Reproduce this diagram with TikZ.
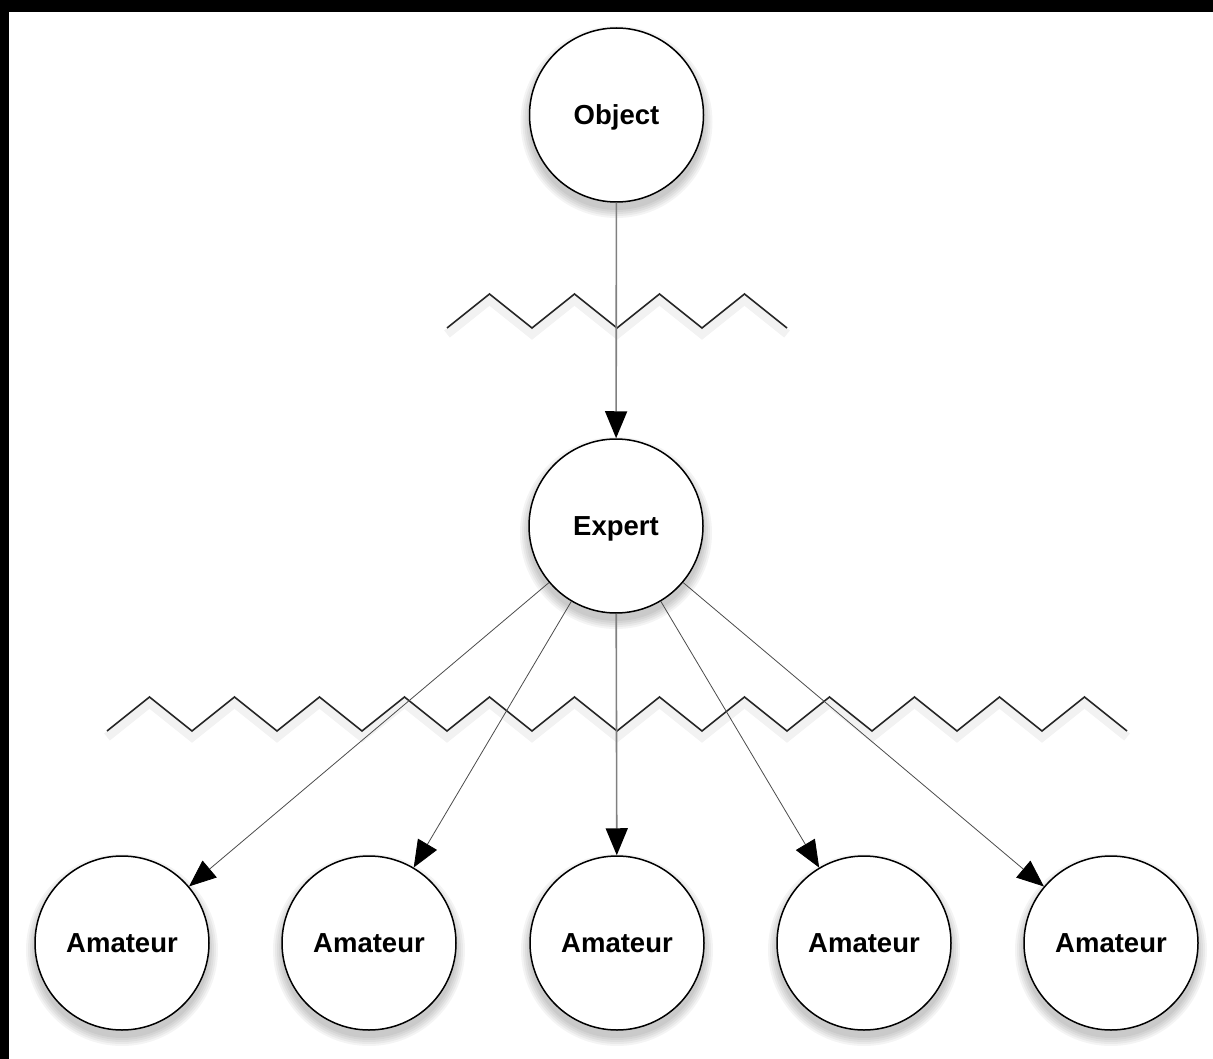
\documentclass[tikz,border=0pt]{standalone}
\usepackage{fontspec}
\setmainfont{Liberation Sans}
\usetikzlibrary{arrows.meta}
\begin{document}
\begin{tikzpicture}[x=1pt,y=-1pt,
  ball/.style={circle, draw=black, line width=1.5pt, fill=white, minimum size=174pt, inner sep=0pt,
    font=\fontsize{27.5}{30}\selectfont\bfseries, text height=19.5pt, text depth=0pt},
  softshadow/.style={black, opacity=0.045},
  zig/.style={line width=1.6pt, black!85, line join=miter},
  zigshadow/.style={line width=9pt, black, opacity=0.05},
  tipstyle/.style={-{Triangle[length=27pt,width=22pt,color=black,fill=black]}},
  mainlink/.style={tipstyle, line width=1.6pt, black!50},
  sidelink/.style={tipstyle, line width=0.8pt, black!70}
]
\useasboundingbox (0,0) rectangle (1213,1059);
\fill[black] (0,0) rectangle (1213,1059);
\fill[white] (9,12) rectangle (1213,1059);

% zigzag shadows
\draw[zigshadow] (447,334) \foreach \i in {1,...,8} { -- ({447+42.5*\i},{334-34*mod(\i,2)}) };
\draw[zigshadow] (107,737) \foreach \i in {1,...,24} { -- ({107+42.5*\i},{737-34*mod(\i,2)}) };
% zigzags
\draw[zig] (447,328) \foreach \i in {1,...,8} { -- ({447+42.5*\i},{328-34*mod(\i,2)}) };
\draw[zig] (107,731) \foreach \i in {1,...,24} { -- ({107+42.5*\i},{731-34*mod(\i,2)}) };

% soft circle shadows
\foreach \cx/\cy in {616.5/115, 616/526, 122/943, 369/943, 617/943, 864/943, 1111/943}{
  \foreach \k in {0,2,4,6,8}{
    \fill[softshadow] (\cx,\cy+7) circle ({88+\k});
  }
}

% nodes
\node[ball] (obj) at (616.5,115) {Object};
\node[ball] (exp) at (616,526) {Expert};
\node[ball] (a1) at (122,943) {Amateur};
\node[ball] (a2) at (369,943) {Amateur};
\node[ball] (a3) at (617,943) {Amateur};
\node[ball] (a4) at (864,943) {Amateur};
\node[ball] (a5) at (1111,943) {Amateur};

% connectors
\draw[mainlink] (obj) -- (exp);
\draw[mainlink] (exp) -- (a3);
\draw[sidelink] (exp) -- (a1);
\draw[sidelink] (exp) -- (a2);
\draw[sidelink] (exp) -- (a4);
\draw[sidelink] (exp) -- (a5);
\end{tikzpicture}
\end{document}
